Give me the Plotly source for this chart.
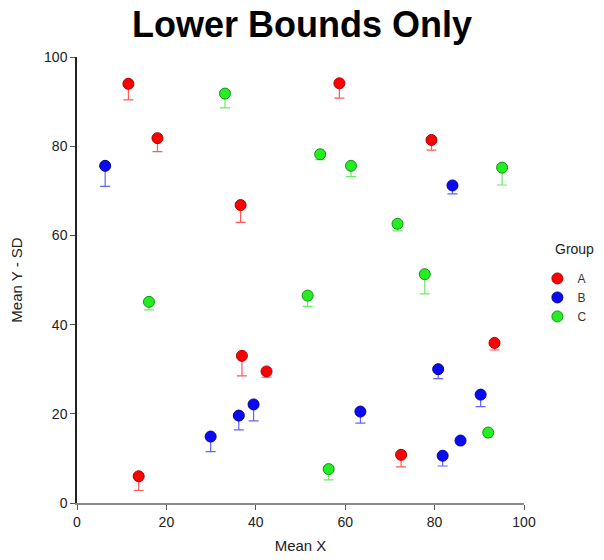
import plotly.graph_objects as go

# Group A
a_x = [11.5, 18.0, 36.6, 58.7, 79.3, 13.8, 36.9, 42.4, 93.4, 72.5]
a_y = [94.0, 81.8, 66.8, 94.1, 81.4, 6.0, 33.0, 29.5, 35.9, 10.8]
a_sd = [3.6, 3.0, 3.9, 3.3, 2.3, 3.2, 4.5, 1.3, 1.6, 2.7]

# Group B
b_x = [6.3, 84.0, 29.9, 36.2, 39.5, 63.4, 80.8, 90.3, 85.8, 81.8]
b_y = [75.6, 71.2, 14.9, 19.6, 22.1, 20.5, 30.0, 24.3, 14.0, 10.6]
b_sd = [4.6, 1.9, 3.4, 3.2, 3.7, 2.6, 2.1, 2.7, 0.5, 2.3]

# Group C
c_x = [33.1, 54.4, 61.3, 95.1, 71.7, 77.8, 16.1, 51.6, 56.3, 92.0]
c_y = [91.8, 78.2, 75.6, 75.2, 62.6, 51.3, 45.1, 46.5, 7.6, 15.8]
c_sd = [3.2, 1.2, 2.4, 3.9, 1.6, 4.4, 1.8, 2.4, 2.4, 1.0]

groups = [
    ("A", a_x, a_y, a_sd, "#FF0000", "rgba(255,60,60,0.85)", "#B00000"),
    ("B", b_x, b_y, b_sd, "#0A0AF5", "rgba(70,70,255,0.85)", "#000090"),
    ("C", c_x, c_y, c_sd, "#22EE22", "rgba(90,230,90,0.9)", "#159015"),
]

fig = go.Figure()
for name, xs, ys, sds, fill, ecol, edge in groups:
    fig.add_trace(go.Scatter(
        x=xs, y=ys, mode="markers", name=name,
        marker=dict(size=11, color=fill, line=dict(color=edge, width=1)),
        error_y=dict(type="data", symmetric=False, array=[0] * len(sds),
                     arrayminus=sds, color=ecol, thickness=1.2, width=5),
    ))

font_family = "Liberation Sans, Arial, sans-serif"
axis_font = dict(family=font_family, size=14, color="#222")

fig.update_layout(
    width=604, height=560,
    margin=dict(l=77, r=80, t=57, b=57, autoexpand=False),
    paper_bgcolor="white", plot_bgcolor="white",
    font=dict(family=font_family, size=13, color="#222"),
    title=dict(text="<b>Lower Bounds Only</b>", x=0.5, xanchor="center",
               y=0.957, yanchor="middle",
               font=dict(family=font_family, size=36, color="black")),
    xaxis=dict(range=[0, 100], tickvals=[0, 20, 40, 60, 80, 100], showgrid=False,
               zeroline=False, showline=True, linecolor="#8a8a8a", linewidth=1.5,
               ticks="outside", ticklen=5, tickcolor="#555",
               title=dict(text="Mean X", font=dict(size=15), standoff=12),
               tickfont=axis_font),
    yaxis=dict(range=[0, 100], tickvals=[0, 20, 40, 60, 80, 100], showgrid=False,
               zeroline=False, showline=True, linecolor="#222", linewidth=1.5,
               ticks="outside", ticklen=5, tickcolor="#555",
               title=dict(text="Mean Y - SD", font=dict(size=15), standoff=18),
               tickfont=axis_font),
    legend=dict(x=1.03, xanchor="left", y=0.536, yanchor="top",
                font=dict(size=12, color="#333"), itemwidth=30,
                bgcolor="rgba(0,0,0,0)"),
    annotations=[dict(text="Group", xref="paper", yref="paper", x=1.065, y=0.548,
                      xanchor="left", yanchor="bottom", showarrow=False,
                      font=dict(family=font_family, size=14, color="#222"))],
)

fig.write_html("out.html")
